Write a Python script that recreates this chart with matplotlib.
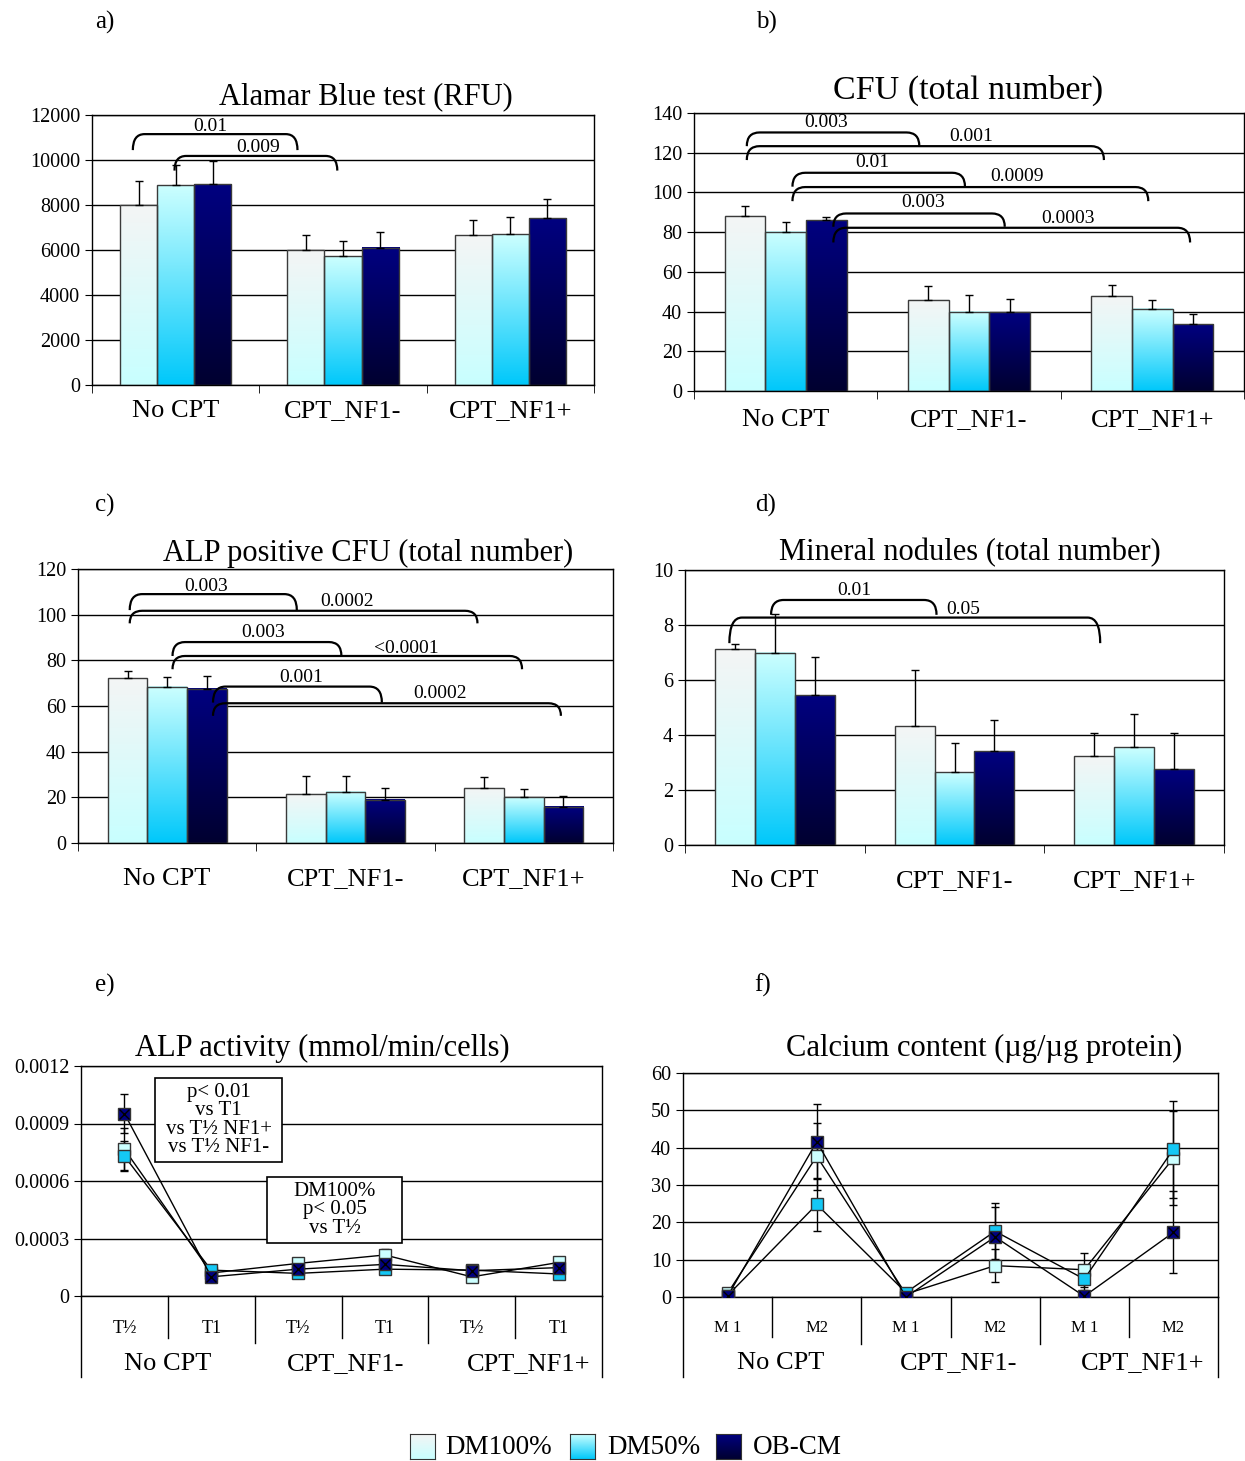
import numpy as np
import matplotlib
matplotlib.use('Agg')
import matplotlib.pyplot as plt
from matplotlib.path import Path
from matplotlib.patches import PathPatch, Rectangle
from matplotlib.colors import to_rgb

plt.rcParams['font.family'] = ['Liberation Serif', 'DejaVu Serif']

# data
cats = ['No CPT', 'CPT_NF1-', 'CPT_NF1+']
series = ['DM100%', 'DM50%', 'OB-CM']

alamar_dm100 = [8000, 6000, 6650]
alamar_dm50 = [8870, 5720, 6700]
alamar_ob = [8920, 6100, 7410]
alamar_dm100_err = [1080, 680, 700]
alamar_dm50_err = [910, 680, 770]
alamar_ob_err = [1050, 690, 840]

cfu_dm100 = [88.3, 46.0, 48.0]
cfu_dm50 = [80.2, 39.9, 41.4]
cfu_ob = [85.9, 39.6, 33.7]
cfu_dm100_err = [4.8, 6.7, 5.4]
cfu_dm50_err = [4.9, 8.6, 4.2]
cfu_ob_err = [1.9, 6.9, 5.2]

alpcfu_dm100 = [72.2, 21.6, 24.1]
alpcfu_dm50 = [68.5, 22.4, 20.0]
alpcfu_ob = [67.6, 19.0, 15.9]
alpcfu_dm100_err = [3.0, 7.8, 4.6]
alpcfu_dm50_err = [4.1, 6.8, 3.6]
alpcfu_ob_err = [5.4, 5.3, 4.5]

nod_dm100 = [7.11, 4.31, 3.22]
nod_dm50 = [7.0, 2.65, 3.55]
nod_ob = [5.45, 3.41, 2.76]
nod_dm100_err = [0.2, 2.05, 0.87]
nod_dm50_err = [1.39, 1.05, 1.23]
nod_ob_err = [1.4, 1.14, 1.33]

# significance brackets: (x start, x end, top, leg end, p label, label x, label y)
alamar_brackets = [(-0.256, 0.728, 11150, 10440, '0.01', 0.21, 11480),
                   (-0.007, 0.966, 10180, 9530, '0.009', 0.49, 10550)]
cfu_brackets = [(-0.212, 0.729, 130.2, 123.3, '0.003', 0.22, 135.2),
                (-0.212, 1.736, 123.3, 116.3, '0.001', 1.01, 128.0),
                (0.037, 0.978, 109.9, 102.9, '0.01', 0.47, 115.1),
                (0.037, 1.978, 102.7, 95.6, '0.0009', 1.26, 107.9),
                (0.26, 1.195, 89.4, 82.7, '0.003', 0.75, 95.0),
                (0.26, 2.206, 82.2, 74.8, '0.0003', 1.54, 86.9)]
alpcfu_brackets = [(-0.21, 0.727, 109.0, 102.0, '0.003', 0.22, 112.2),
                   (-0.21, 1.74, 101.7, 96.2, '0.0002', 1.01, 105.7),
                   (0.03, 0.977, 88.0, 81.9, '0.003', 0.54, 92.1),
                   (0.03, 1.99, 81.9, 76.1, '<0.0001', 1.34, 85.3),
                   (0.257, 1.204, 68.5, 61.5, '0.001', 0.75, 72.6),
                   (0.257, 2.208, 61.2, 55.7, '0.0002', 1.53, 65.6)]
nod_brackets = [(-0.021, 0.9, 8.91, 8.37, '0.01', 0.44, 9.25),
                (-0.253, 1.811, 8.27, 7.34, '0.05', 1.05, 8.58)]

alp_times = ['T½', 'T1', 'T½', 'T1', 'T½', 'T1']
alp_dm100 = [0.000766, 0.00012, 0.00017, 0.000214, 0.0001, 0.000175]
alp_dm50 = [0.00073, 0.000135, 0.000118, 0.00014, 0.000135, 0.000115]
alp_ob = [0.000952, 0.0001, 0.00014, 0.000165, 0.000132, 0.000148]
alp_dm100_err = [0.00011, 0.00001, 0.00001, 0.00003, 0.00001, 0.00001]
alp_dm50_err = [0.00008, 0.00001, 0.00001, 0.00001, 0.00001, 0.00001]
alp_ob_err = [0.0001, 0.00001, 0.00001, 0.00001, 0.00001, 0.00001]

ca_months = ['M 1', 'M2', 'M 1', 'M2', 'M 1', 'M2']
ca_dm100 = [1.0, 37.7, 0.8, 8.4, 7.3, 37.2]
ca_dm50 = [0.4, 24.8, 1.2, 17.6, 4.8, 39.6]
ca_ob = [0.2, 41.6, 0.0, 16.1, 0.2, 17.3]
ca_dm100_err = [0.5, 9.0, 0.5, 4.5, 4.5, 12.5]
ca_dm50_err = [0.3, 7.0, 0.5, 7.5, 3.0, 13.0]
ca_ob_err = [0.2, 10.0, 0.3, 8.0, 0.3, 11.0]

# bar gradients (top colour, bottom colour) and marker faces
grads = [('#f4f5f5', '#c8ffff'), ('#ccffff', '#00c8fa'), ('#000080', '#000030')]
marker_faces = ['#ccffff', '#14c8f5', '#000080']

W, H = 1245, 1461
fig = plt.figure(figsize=(W / 100, H / 100), dpi=100)


def px_axes(l, t, r, b):
    return fig.add_axes([l / W, 1 - b / H, (r - l) / W, (b - t) / H])


def gradient(c_top, c_bot, n=128):
    a = np.array(to_rgb(c_top))
    b = np.array(to_rgb(c_bot))
    t = np.linspace(0, 1, n)[:, None]
    return (a * (1 - t) + b * t)[:, None, :]


def bracket(ax, x1, x2, ytop, ybot, label, lx, ly, rx=0.07):
    verts = [(x1, ybot), (x1, ytop), (x1 + rx, ytop), (x2 - rx, ytop),
             (x2, ytop), (x2, ybot)]
    codes = [Path.MOVETO, Path.CURVE3, Path.CURVE3, Path.LINETO,
             Path.CURVE3, Path.CURVE3]
    ax.add_patch(PathPatch(Path(verts, codes), fill=False, lw=1.6,
                           color='black', zorder=6, clip_on=False))
    ax.text(lx, ly, label, ha='center', va='center', fontsize=14, zorder=7)


def bar_panel(ax, vals, errs, ymax, step, brackets, labelpad):
    w = 0.222
    for j in range(3):
        for i in range(3):
            x = i + (j - 1) * w
            h = vals[j][i]
            ax.imshow(gradient(*grads[j]), extent=(x - w / 2, x + w / 2, 0, h),
                      aspect='auto', origin='upper', zorder=2)
            ax.bar(x, h, width=w, color='none', edgecolor='#3a3a3a', lw=1, zorder=3)
            ax.errorbar(x, h, yerr=[[0], [errs[j][i]]], fmt='none', ecolor='black',
                        elinewidth=1, capsize=3, capthick=1, zorder=4)
    for br in brackets:
        bracket(ax, *br)
    ax.set_xlim(-0.5, 2.5)
    ax.set_ylim(0, ymax)
    ax.set_yticks(np.arange(0, ymax + step / 2, step))
    ax.yaxis.grid(True, color='black', lw=1)
    ax.set_axisbelow(True)
    ax.set_xticks([0, 1, 2])
    ax.set_xticklabels(cats, fontsize=19)
    ax.set_xticks([-0.5, 0.5, 1.5, 2.5], minor=True)
    ax.tick_params(axis='x', which='major', length=0, pad=labelpad)
    ax.tick_params(axis='x', which='minor', length=6, direction='out')
    ax.tick_params(axis='y', labelsize=14.5, length=5, direction='out')
    for s in ax.spines.values():
        s.set_color('black')
        s.set_linewidth(1)


# a) Alamar Blue
ax_a = px_axes(92, 115, 594, 385)
bar_panel(ax_a, [alamar_dm100, alamar_dm50, alamar_ob],
          [alamar_dm100_err, alamar_dm50_err, alamar_ob_err], 12000, 2000,
          alamar_brackets, 11)

# b) CFU
ax_b = px_axes(694, 113, 1244, 391)
bar_panel(ax_b, [cfu_dm100, cfu_dm50, cfu_ob],
          [cfu_dm100_err, cfu_dm50_err, cfu_ob_err], 140, 20, cfu_brackets, 13)

# c) ALP positive CFU
ax_c = px_axes(78, 569, 613, 843)
bar_panel(ax_c, [alpcfu_dm100, alpcfu_dm50, alpcfu_ob],
          [alpcfu_dm100_err, alpcfu_dm50_err, alpcfu_ob_err], 120, 20,
          alpcfu_brackets, 18)

# d) Mineral nodules
ax_d = px_axes(685, 570, 1224, 845)
bar_panel(ax_d, [nod_dm100, nod_dm50, nod_ob],
          [nod_dm100_err, nod_dm50_err, nod_ob_err], 10, 2, nod_brackets, 18)


def line_panel(ax, vals, errs, sublabels, ymax, step, ylabels, ext, subfs, gshift):
    x = np.arange(6)
    for j in range(3):
        ax.errorbar(x, vals[j], yerr=errs[j], fmt='none', ecolor='black',
                    elinewidth=1, capsize=3, capthick=1, zorder=3)
        ax.plot(x, vals[j], color='black', lw=1, marker='s', ms=9,
                mfc=marker_faces[j], mec='#333333', mew=1, zorder=4 + j)
        if j == 2:
            ax.plot(x, vals[j], ls='none', marker='x', ms=7, mec='black',
                    mew=1, zorder=7)
    ax.set_xlim(-0.5, 5.5)
    ax.set_ylim(0, ymax)
    ax.set_yticks(np.arange(0, ymax + step / 2, step))
    ax.set_yticklabels(ylabels)
    ax.yaxis.grid(True, color='black', lw=1)
    ax.set_axisbelow(True)
    ax.set_xticks([])
    ax.tick_params(axis='y', labelsize=14.5, length=5, direction='out')
    for s in ax.spines.values():
        s.set_color('black')
        s.set_linewidth(1)
    trans = ax.get_xaxis_transform()
    for i, lab in enumerate(sublabels):
        ax.text(i, ext[0], lab, transform=trans, ha='center', va='center',
                fontsize=subfs)
    for i, c in enumerate(cats):
        ax.text(2 * i + 0.5 + gshift[i], ext[1], c, transform=trans, ha='center',
                va='center', fontsize=19)
    for b in [0.5, 2.5, 4.5]:
        ax.plot([b, b], [0, ext[2]], transform=trans, color='black', lw=1,
                clip_on=False)
    for b in [1.5, 3.5]:
        ax.plot([b, b], [0, ext[3]], transform=trans, color='black', lw=1,
                clip_on=False)
    for b in [-0.5, 5.5]:
        ax.plot([b, b], [0, ext[4]], transform=trans, color='black', lw=1,
                clip_on=False)


def note_box(ax, x0, x1, y0, y1, txt):
    ax.add_patch(Rectangle((x0, y0), x1 - x0, y1 - y0, fc='white', ec='black',
                           lw=1.2, zorder=8))
    ax.text((x0 + x1) / 2, (y0 + y1) / 2, txt, ha='center', va='center',
            fontsize=15, linespacing=0.95, zorder=9)


# e) ALP activity
ax_e = px_axes(81, 1066, 602, 1296)
line_panel(ax_e, [alp_dm100, alp_dm50, alp_ob], [alp_dm100_err, alp_dm50_err, alp_ob_err],
           alp_times, 0.0012, 0.0003, ['0', '0.0003', '0.0006', '0.0009', '0.0012'],
           (-0.14, -0.295, -0.183, -0.204, -0.352), 13, (0, 0.05, 0.15))
note_box(ax_e, 0.35, 1.82, 0.000699, 0.001137, 'p< 0.01\nvs T1\nvs T½ NF1+\nvs T½ NF1-')
note_box(ax_e, 1.64, 3.20, 0.000277, 0.000621, 'DM100%\np< 0.05\nvs T½')

# f) Calcium content
ax_f = px_axes(683, 1073, 1218, 1297)
line_panel(ax_f, [ca_dm100, ca_dm50, ca_ob], [ca_dm100_err, ca_dm50_err, ca_ob_err],
           ca_months, 60, 10, ['0', '10', '20', '30', '40', '50', '60'],
           (-0.14, -0.295, -0.18, -0.21, -0.357), 12, (0.09, 0.09, 0.15))

# titles and panel letters
titles = [('Alamar Blue test (RFU)', 366, 97, 22), ('CFU (total number)', 968, 90, 24.5),
          ('ALP positive CFU (total number)', 368, 553, 22),
          ('Mineral nodules (total number)', 970, 553, 22),
          ('ALP activity (mmol/min/cells)', 322, 1048, 22),
          ('Calcium content (µg/µg protein)', 984, 1048, 22)]
for t, x, y, fs in titles:
    fig.text(x / W, 1 - y / H, t, ha='center', va='center', fontsize=fs)

for lab, x, y in [('a)', 105, 22), ('b)', 766, 22), ('c)', 105, 505),
                  ('d)', 766, 505), ('e)', 105, 985), ('f)', 763, 985)]:
    fig.text(x / W, 1 - y / H, lab, ha='center', va='center', fontsize=18)

# legend with gradient swatches
for j, (name, sx, tx) in enumerate(zip(series, [410, 570, 716], [445, 607, 753])):
    sw = px_axes(sx, 1434, sx + 25, 1459)
    sw.imshow(gradient(*grads[j]), extent=(0, 1, 0, 1), aspect='auto', origin='upper')
    sw.set_xticks([])
    sw.set_yticks([])
    for s in sw.spines.values():
        s.set_color('#333333')
    fig.text(tx / W, 1 - 1448 / H, name, ha='left', va='center', fontsize=19.5)

fig.savefig('out.png', dpi=100)
